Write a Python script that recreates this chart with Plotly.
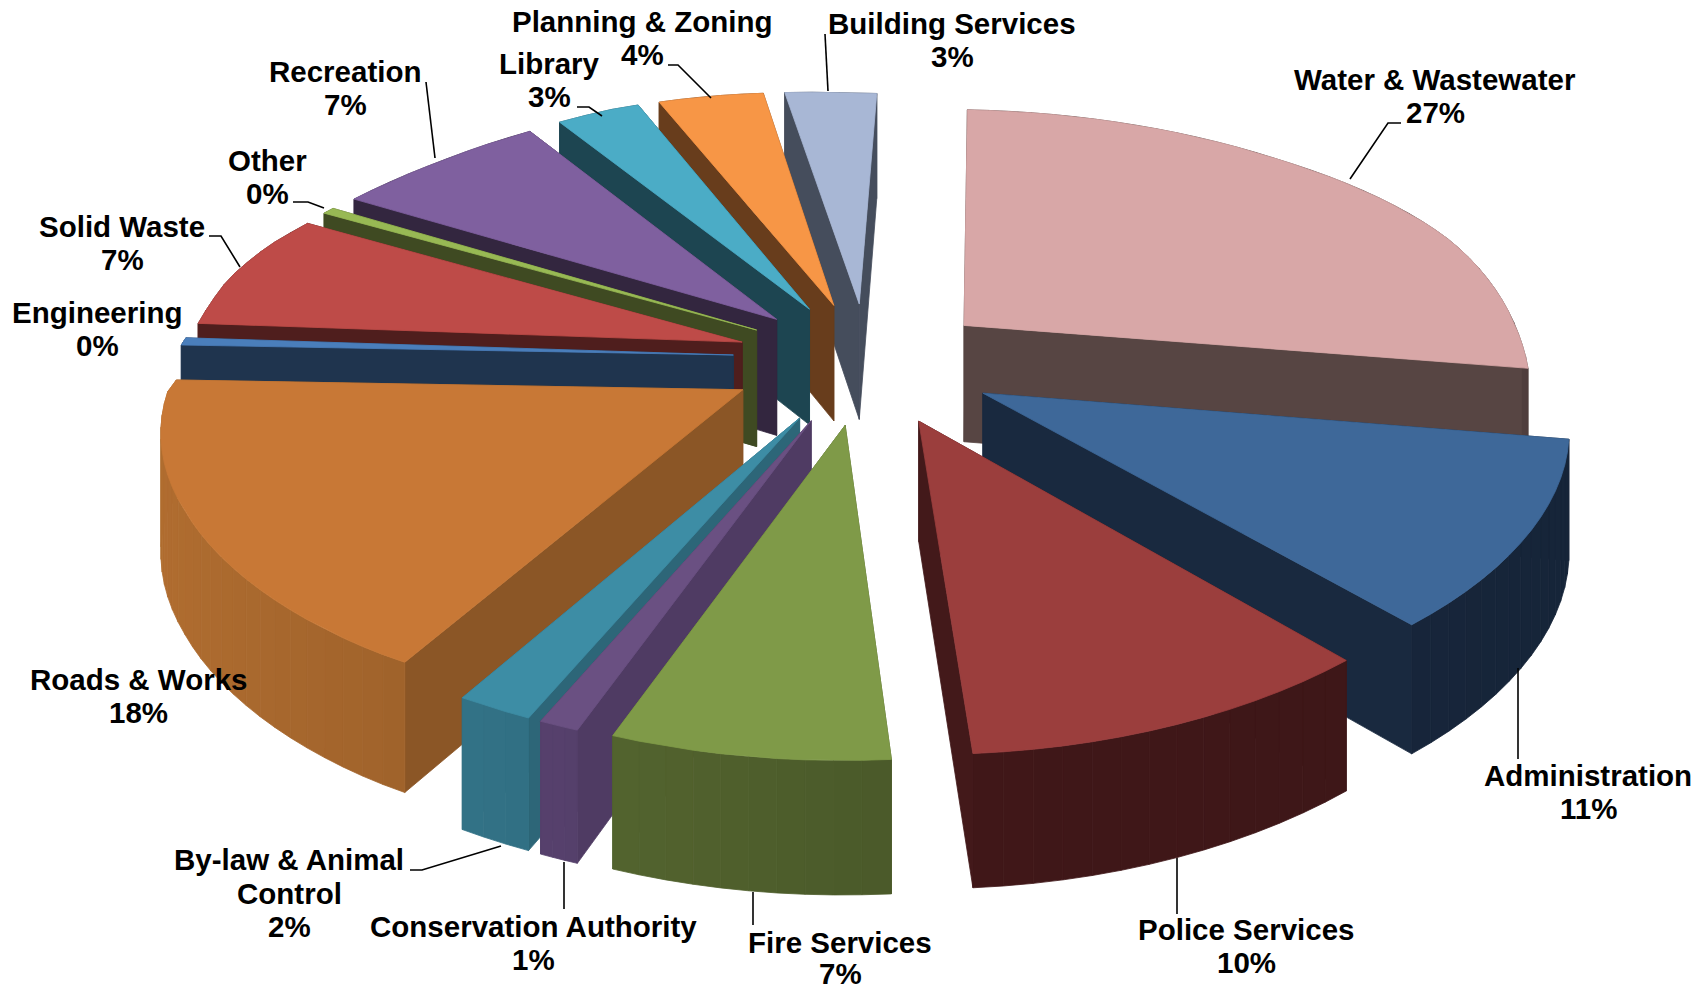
import math
import plotly.graph_objects as go

# ---------- data ----------
categories = ["Water & Wastewater", "Administration", "Police Services", "Fire Services",
              "Conservation Authority", "By-law & Animal Control", "Roads & Works", "Engineering",
              "Solid Waste", "Other", "Recreation", "Library", "Planning & Zoning", "Building Services"]
values = [27.2, 11.0, 10.5, 7.3, 1.05, 2.0, 18.25, 0.4, 6.7, 0.4, 6.9, 2.8, 3.6, 2.8]
percent_labels = ["27%", "11%", "10%", "7%", "1%", "2%", "18%", "0%", "7%", "0%", "7%", "3%", "4%", "3%"]

# ---------- styles ----------
top_colors = ["#D8A7A7", "#3E6899", "#9B3E3D", "#7F9A48", "#6A5082", "#3D8DA5", "#C87836",
              "#4A7EBB", "#BE4B48", "#98B954", "#7F609F", "#4BACC6", "#F79646", "#A8B7D5"]
wall_colors = ["#574543", "#19293F", "#43191A", "#4E5E2C", "#4F3B63", "#2D6678", "#8B5626",
               "#1F344E", "#4F1E1D", "#3F4A22", "#33263F", "#1D4551", "#683D1C", "#454D5C"]

# ---------- projection parameters ----------
W, H = 1702, 992
CX, CY = 866, 363
R, RT = 587, 265
DEPTH = 118
P_X_FRONT, P_X_BACK, P_Y, P_D = 0.05, 0.20, 0.148, 0.10
PULL = 0.23
START = 2.0

def clip01(v):
    return max(0.0, min(1.0, v))

def right_warp(py):
    if py >= 0:
        return 20 * math.exp(-(py / 0.5) ** 2)
    if py >= -0.15:
        return 20 + (py / 0.15) * 12
    return 8 + (py + 0.15) * 34

def project(px, py, top):
    sx = 1 / (1 + (P_X_BACK if py > 0 else P_X_FRONT) * py)
    sy = 1 / (1 + P_Y * py)
    sd = 1 / (1 + P_D * py)
    # small warps that follow the reference's skewed camera
    dy = 19 * px * px if px < 0 else 2 * px
    dy += 6 * clip01((py - 0.5) / 0.4)
    dx = 0.0
    if px > 0:
        dx += -px * right_warp(py)
    else:
        dx += -10 * clip01((py - 0.25) / 0.3)
        dx += 9 * clip01((-px - 0.8) / 0.35) * clip01((0.4 - py) / 0.3)
        dy += -10 * clip01((py - 0.1) / 0.3) * clip01(-px / 0.5)
    return CX + R * px * sx + dx, CY - RT * py * sy + dy + (0 if top else DEPTH * sd)

def shade(hex_color, f):
    r, g, b = [int(hex_color[i:i + 2], 16) for i in (1, 3, 5)]
    return "rgb(%d,%d,%d)" % (min(255, r * f), min(255, g * f), min(255, b * f))

fig = go.Figure()

def poly(points, color):
    xs = [p[0] for p in points] + [points[0][0]]
    ys = [p[1] for p in points] + [points[0][1]]
    fig.add_trace(go.Scatter(x=xs, y=ys, mode="lines", fill="toself", fillcolor=color,
                             line=dict(color=color, width=0.8), hoverinfo="skip", showlegend=False))

total = sum(values)
slices = []
acc = 0.0
for i, v in enumerate(values):
    a0 = math.radians(START + 360 * acc / total)
    a1 = math.radians(START + 360 * (acc + v) / total)
    acc += v
    mid = (a0 + a1) / 2
    slices.append((i, a0, a1, mid))

# paint from back to front
for i, a0, a1, mid in sorted(slices, key=lambda t: -math.cos(t[3])):
    ox, oy = PULL * math.sin(mid), PULL * math.cos(mid)
    n = max(3, int((a1 - a0) / math.radians(2.5)))
    arc = [(ox + math.sin(a0 + (a1 - a0) * k / n), oy + math.cos(a0 + (a1 - a0) * k / n)) for k in range(n + 1)]
    quads = []
    for pt in (arc[0], arc[-1]):
        q = [project(ox, oy, True), project(*pt, True), project(*pt, False), project(ox, oy, False)]
        quads.append(((oy + pt[1]) / 2, q, wall_colors[i]))
    for k in range(n):
        p, r = arc[k], arc[k + 1]
        q = [project(*p, True), project(*r, True), project(*r, False), project(*p, False)]
        f = 0.97 - 0.25 * p[0] if p[0] < 0 else 0.97 - 0.05 * p[0]
        quads.append(((p[1] + r[1]) / 2, q, shade(wall_colors[i], f)))
    for _, q, c in sorted(quads, key=lambda t: -t[0]):
        poly(q, c)
    poly([project(ox, oy, True)] + [project(*p, True) for p in arc], top_colors[i])

# ---------- labels ----------
label_lines = {
    0: ["Water & Wastewater"], 1: ["Administration"], 2: ["Police Services"], 3: ["Fire Services"],
    4: ["Conservation Authority"], 5: ["By-law & Animal", "Control"], 6: ["Roads & Works"],
    7: ["Engineering"], 8: ["Solid Waste"], 9: ["Other"], 10: ["Recreation"], 11: ["Library"],
    12: ["Planning & Zoning"], 13: ["Building Services"],
}
label_pos = {0: (1435, 96), 1: (1588, 792), 2: (1246, 946), 3: (840, 959), 4: (533, 943), 5: (289, 893),
             6: (138, 696), 7: (97, 329), 8: (122, 243), 9: (267, 177), 10: (345, 88), 11: (549, 80),
             12: (642, 38), 13: (952, 40)}
PITCH = 33.6
BOTTOM_LIMIT = 973
annotations = []
for i, lines in label_lines.items():
    lines = lines + [percent_labels[i]]
    x, y = label_pos[i]
    for j, t in enumerate(lines):
        ty = min(BOTTOM_LIMIT, y + (j - (len(lines) - 1) / 2) * PITCH)
        annotations.append(dict(x=x, y=ty, text=t, showarrow=False,
                                xref="x", yref="y", xanchor="center", yanchor="middle",
                                font=dict(family="Liberation Sans", size=29.5, color="#000000", weight="bold")))

leaders = [
    [(1401, 123), (1388, 123), (1350, 179)],
    [(1518, 668), (1518, 759)],
    [(1177, 858), (1177, 914)],
    [(753, 892), (753, 925)],
    [(564, 862), (564, 909)],
    [(410, 870), (422, 870), (501, 846)],
    [(209, 236), (221, 236), (240, 267)],
    [(293, 202), (308, 202), (324, 208)],
    [(426, 82), (435, 158)],
    [(577, 107), (589, 107), (602, 116)],
    [(668, 65), (678, 65), (711, 98)],
    [(825, 34), (828, 91)],
]
for seg in leaders:
    fig.add_trace(go.Scatter(x=[p[0] for p in seg], y=[p[1] for p in seg], mode="lines",
                             line=dict(color="#000000", width=1.6), hoverinfo="skip", showlegend=False))

fig.update_layout(width=W, height=H, margin=dict(l=0, r=0, t=0, b=0), paper_bgcolor="white",
                  plot_bgcolor="white", showlegend=False, annotations=annotations,
                  xaxis=dict(range=[0, W], visible=False, fixedrange=True),
                  yaxis=dict(range=[H, 0], visible=False, fixedrange=True))
fig.write_html("out.html", post_script="document.body.style.margin='0';", config=dict(displayModeBar=False))
